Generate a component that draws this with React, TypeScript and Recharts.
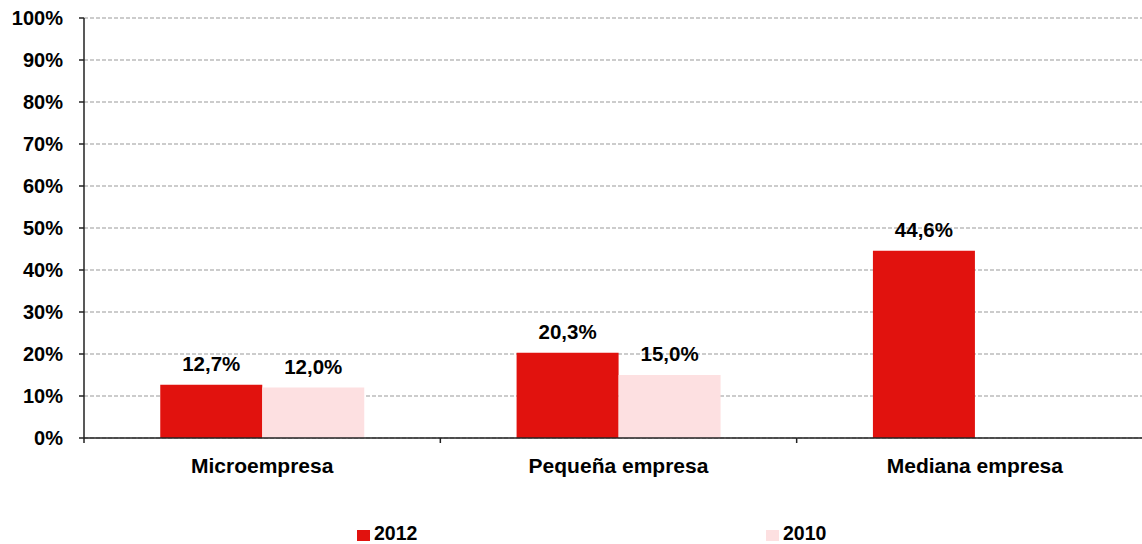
import React from 'react';
import { BarChart, Bar, XAxis, YAxis, CartesianGrid, LabelList } from 'recharts';

const categories = ['Microempresa', 'Pequeña empresa', 'Mediana empresa'];
const values2012 = [12.7, 20.3, 44.6];
const values2010: (number | null)[] = [12.0, 15.0, null];
const yTicks = [0, 10, 20, 30, 40, 50, 60, 70, 80, 90, 100];
const seriesNames = ['2012', '2010'];
const seriesColors = ['#E1120E', '#FDE0E1'];

const data = categories.map((c, i) => ({ name: c, s2012: values2012[i], s2010: values2010[i] }));

const CHART_W = 1155;
const CHART_H = 544;
const MARGIN = { top: 18, right: 2, bottom: 0, left: 0 };
const YAXIS_W = 84;
const XAXIS_H = 106;
const BAND = (CHART_W - MARGIN.right - MARGIN.left - YAXIS_W) / categories.length;
const FONT = '"Liberation Sans", Arial, sans-serif';
const TICK_MARGIN_X = 22;

const fmt = (v: any) => (v === null || v === undefined ? '' : `${Number(v).toFixed(1).replace('.', ',')}%`);

const XTick = (props: any) => {
  const { x, y, payload, index } = props;
  const axisY = y - TICK_MARGIN_X;
  const left = x - BAND / 2;
  return (
    <g>
      <line x1={left} y1={axisY} x2={left} y2={axisY + 5} stroke="#222" strokeWidth={1.5} />
      {index === categories.length - 1 && (
        <line x1={x + BAND / 2} y1={axisY} x2={x + BAND / 2} y2={axisY + 5} stroke="#222" strokeWidth={1.5} />
      )}
      <text x={x} y={axisY + 35} textAnchor="middle" fontFamily={FONT} fontWeight="bold" fontSize={21} fill="#000">
        {payload.value}
      </text>
    </g>
  );
};

const YTick = (props: any) => {
  const { x, y, payload } = props;
  return (
    <text x={x} y={y + 7} textAnchor="end" fontFamily={FONT} fontWeight="bold" fontSize={20} fill="#000">
      {`${payload.value}%`}
    </text>
  );
};

export default function App() {
  const legendX = [357, 766];
  return (
    <div style={{ position: 'absolute', left: 0, top: 0, width: 1142, height: 544, overflow: 'hidden', background: '#fff' }}>
      <BarChart width={CHART_W} height={CHART_H} data={data} margin={MARGIN} barCategoryGap="21.4%" barGap={0}>
        <CartesianGrid vertical={false} stroke="#999" strokeDasharray="4 2" />
        <XAxis
          dataKey="name"
          height={XAXIS_H}
          tickSize={0}
          tickMargin={TICK_MARGIN_X}
          tickLine={false}
          interval={0}
          axisLine={{ stroke: '#222', strokeWidth: 1.5 }}
          tick={<XTick />}
        />
        <YAxis
          width={YAXIS_W}
          domain={[0, 100]}
          ticks={yTicks}
          interval={0}
          tickSize={5}
          tickMargin={16}
          axisLine={{ stroke: '#222', strokeWidth: 1.5 }}
          tickLine={{ stroke: '#222', strokeWidth: 1.5 }}
          tick={<YTick />}
        />
        <Bar dataKey="s2012" name={seriesNames[0]} fill={seriesColors[0]} isAnimationActive={false}>
          <LabelList dataKey="s2012" position="top" offset={14} formatter={fmt}
            style={{ fontFamily: FONT, fontWeight: 'bold', fontSize: 20.5, fill: '#000' }} />
        </Bar>
        <Bar dataKey="s2010" name={seriesNames[1]} fill={seriesColors[1]} isAnimationActive={false}>
          <LabelList dataKey="s2010" position="top" offset={14} formatter={fmt}
            style={{ fontFamily: FONT, fontWeight: 'bold', fontSize: 20.5, fill: '#000' }} />
        </Bar>
      </BarChart>
      {seriesNames.map((n, i) => (
        <div key={n} style={{ position: 'absolute', left: legendX[i], top: 523, display: 'flex', alignItems: 'flex-start', fontFamily: FONT, fontWeight: 'bold', fontSize: 19.5, color: '#000', lineHeight: '21px' }}>
          <span style={{ display: 'inline-block', width: 13, height: 11, background: seriesColors[i], marginRight: 4, marginTop: 7 }} />
          <span>{n}</span>
        </div>
      ))}
    </div>
  );
}
